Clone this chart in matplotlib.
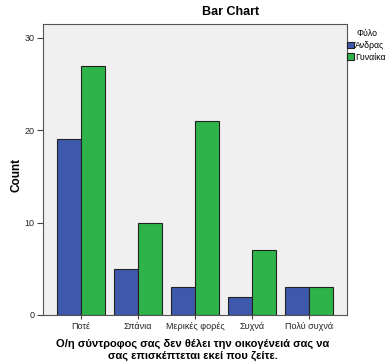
import numpy as np
import matplotlib.pyplot as plt

categories = ['Ποτέ', 'Σπάνια', 'Μερικές φορές', 'Συχνά', 'Πολύ συχνά']
andras = [19, 5, 3, 2, 3]
gynaika = [27, 10, 21, 7, 3]
series_names = ['Άνδρας', 'Γυναίκα']

plt.rcParams['font.family'] = ['Liberation Sans', 'DejaVu Sans']

W, H = 386, 363
fig = plt.figure(figsize=(W / 100, H / 100), dpi=100)
ax = fig.add_axes([43 / W, 1 - 315 / H, 304 / W, 291 / H])
ax.set_facecolor('#f0f0f0')

x = np.arange(len(categories))
w = 0.42
ax.bar(x - w / 2, andras, w, color='#3e58ac', edgecolor='#222222', linewidth=0.8, label=series_names[0])
ax.bar(x + w / 2, gynaika, w, color='#2db34a', edgecolor='#222222', linewidth=0.8, label=series_names[1])

ax.set_xlim(-0.67, 4.67)
ax.set_ylim(0, 31.5)
ax.set_yticks([0, 10, 20, 30])
ax.set_xticks(x)
ax.set_xticklabels(categories)
ax.tick_params(axis='both', labelsize=6.5, length=4, width=0.8, color='#444444', labelcolor='#222222', pad=2)
ax.tick_params(axis='x', length=3)
for s in ax.spines.values():
    s.set_color('#555555')
    s.set_linewidth(0.8)

fig.text(16 / W, 1 - 175 / H, 'Count', rotation=90, ha='center', va='center',
         fontsize=8.5, fontweight='bold')
fig.text(193 / W, 1 - 350 / H, 'Ο/η σύντροφος σας δεν θέλει την οικογένειά σας να\nσας επισκέπτεται εκεί που ζείτε.',
         ha='center', va='center', fontsize=8, fontweight='bold', linespacing=1.2)
fig.text(231 / W, 1 - 12 / H, 'Bar Chart', ha='center', va='center', fontsize=9, fontweight='bold')

fig.text(367 / W, 1 - 34 / H, 'Φύλο', ha='center', va='center', fontsize=6.3)
leg = ax.legend(loc='upper left', bbox_to_anchor=(347 / W, 1 - 41 / H), bbox_transform=fig.transFigure,
                frameon=False, fontsize=6.3, handlelength=0.75, handleheight=0.8,
                handletextpad=0.15, borderaxespad=0, borderpad=0, labelspacing=0.3)

fig.savefig('out.png', dpi=100)
